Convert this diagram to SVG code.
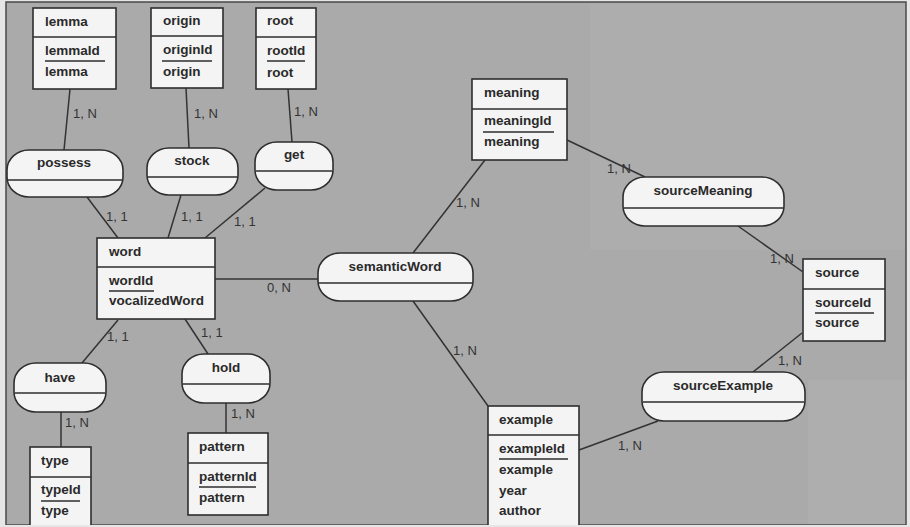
<svg xmlns="http://www.w3.org/2000/svg" width="910" height="527" viewBox="0 0 910 527">
<style>
.ent{fill:#f4f4f4;stroke:#2e2e2e;stroke-width:1.6}
.rel{fill:#f4f4f4;stroke:#2e2e2e;stroke-width:1.6}
.div{stroke:#2e2e2e;stroke-width:1.6}
.ul{stroke:#2e2e2e;stroke-width:1.5}
.t{font-family:"Liberation Sans",Arial,sans-serif;font-size:13.5px;font-weight:bold;fill:#2a2a2a}
.tc{font-family:"Liberation Sans",Arial,sans-serif;font-size:13.5px;font-weight:bold;fill:#2a2a2a;text-anchor:middle}
.lbl{font-family:"Liberation Sans",Arial,sans-serif;font-size:13px;fill:#333}
.ln{stroke:#333;stroke-width:1.5;fill:none}
</style>
<rect x="0" y="0" width="910" height="527" fill="#e6e6e6"/>
<rect x="6" y="2" width="900" height="523" fill="#aaaaaa" stroke="#4a4a4a" stroke-width="1.5"/>
<rect x="590" y="3" width="315" height="247" fill="#adadad"/>
<rect x="808" y="380" width="97" height="144" fill="#aeaeae"/>

<g id="connectors">
<line class="ln" x1="70" y1="89" x2="64" y2="150"/>
<text class="lbl" x="73" y="118">1, N</text>
<line class="ln" x1="186" y1="88" x2="189" y2="148"/>
<text class="lbl" x="194" y="118">1, N</text>
<line class="ln" x1="288" y1="89" x2="292" y2="142"/>
<text class="lbl" x="294" y="116">1, N</text>
<line class="ln" x1="87" y1="197" x2="118" y2="238"/>
<text class="lbl" x="106" y="221">1, 1</text>
<line class="ln" x1="181" y1="195" x2="168" y2="238"/>
<text class="lbl" x="181" y="221">1, 1</text>
<line class="ln" x1="265" y1="188" x2="205" y2="238"/>
<text class="lbl" x="234" y="226">1, 1</text>
<line class="ln" x1="215" y1="279" x2="318" y2="279"/>
<text class="lbl" x="267" y="292">0, N</text>
<line class="ln" x1="118" y1="320" x2="82" y2="363"/>
<text class="lbl" x="107" y="341">1, 1</text>
<line class="ln" x1="185" y1="319" x2="208" y2="354"/>
<text class="lbl" x="201" y="337">1, 1</text>
<line class="ln" x1="61" y1="412" x2="61" y2="447"/>
<text class="lbl" x="65" y="427">1, N</text>
<line class="ln" x1="226" y1="403" x2="226" y2="433"/>
<text class="lbl" x="231" y="418">1, N</text>
<line class="ln" x1="413" y1="253" x2="485" y2="160"/>
<text class="lbl" x="456" y="207">1, N</text>
<line class="ln" x1="567" y1="140" x2="645" y2="177"/>
<text class="lbl" x="607" y="173">1, N</text>
<line class="ln" x1="738" y1="226" x2="803" y2="272"/>
<text class="lbl" x="770" y="263">1, N</text>
<line class="ln" x1="802" y1="333" x2="753" y2="372"/>
<text class="lbl" x="778" y="365">1, N</text>
<line class="ln" x1="413" y1="301" x2="488" y2="406"/>
<text class="lbl" x="453" y="355">1, N</text>
<line class="ln" x1="579" y1="450" x2="658" y2="421"/>
<text class="lbl" x="618" y="450">1, N</text>
</g>

<g id="lemma">
<rect class="ent" x="33" y="8" width="83" height="81"/>
<line class="div" x1="33" y1="37" x2="116" y2="37"/>
<text class="t" x="45" y="26">lemma</text>
<text class="t" x="45" y="55">lemmaId</text>
<line class="ul" x1="45" y1="61" x2="105" y2="61"/>
<text class="t" x="45" y="76">lemma</text>
</g>
<g id="origin">
<rect class="ent" x="151" y="8" width="72" height="80"/>
<line class="div" x1="151" y1="36" x2="223" y2="36"/>
<text class="t" x="163" y="25">origin</text>
<text class="t" x="163" y="54">originId</text>
<line class="ul" x1="162" y1="61" x2="212" y2="61"/>
<text class="t" x="163" y="76">origin</text>
</g>
<g id="root">
<rect class="ent" x="256" y="8" width="60" height="81"/>
<line class="div" x1="256" y1="37" x2="316" y2="37"/>
<text class="t" x="267" y="25">root</text>
<text class="t" x="267" y="55">rootId</text>
<line class="ul" x1="267" y1="61" x2="305" y2="61"/>
<text class="t" x="267" y="77">root</text>
</g>
<g id="possess">
<rect class="rel" x="7" y="150" width="116" height="47" rx="22" ry="20"/>
<line class="div" x1="8" y1="180" x2="122" y2="180"/>
<text class="tc" x="64" y="167">possess</text>
</g>
<g id="stock">
<rect class="rel" x="147" y="148" width="91" height="47" rx="22" ry="20"/>
<line class="div" x1="148" y1="177" x2="237" y2="177"/>
<text class="tc" x="192" y="165">stock</text>
</g>
<g id="get">
<rect class="rel" x="255" y="142" width="78" height="48" rx="22" ry="20"/>
<line class="div" x1="256" y1="171" x2="332" y2="171"/>
<text class="tc" x="294" y="159">get</text>
</g>
<g id="word">
<rect class="ent" x="97" y="238" width="118" height="81"/>
<line class="div" x1="97" y1="267" x2="215" y2="267"/>
<text class="t" x="109" y="256">word</text>
<text class="t" x="109" y="285">wordId</text>
<line class="ul" x1="109" y1="291" x2="154" y2="291"/>
<text class="t" x="109" y="305">vocalizedWord</text>
</g>
<g id="have">
<rect class="rel" x="14" y="363" width="92" height="49" rx="22" ry="20"/>
<line class="div" x1="15" y1="393" x2="105" y2="393"/>
<text class="tc" x="60" y="382">have</text>
</g>
<g id="hold">
<rect class="rel" x="182" y="354" width="88" height="49" rx="22" ry="20"/>
<line class="div" x1="183" y1="384" x2="269" y2="384"/>
<text class="tc" x="226" y="372">hold</text>
</g>
<g id="type">
<rect class="ent" x="30" y="447" width="61" height="90"/>
<line class="div" x1="30" y1="477" x2="91" y2="477"/>
<text class="t" x="41" y="465">type</text>
<text class="t" x="41" y="494">typeId</text>
<line class="ul" x1="41" y1="501" x2="80" y2="501"/>
<text class="t" x="41" y="515">type</text>
</g>
<g id="pattern">
<rect class="ent" x="188" y="433" width="80" height="82"/>
<line class="div" x1="188" y1="463" x2="268" y2="463"/>
<text class="t" x="199" y="451">pattern</text>
<text class="t" x="199" y="481">patternId</text>
<line class="ul" x1="199" y1="487" x2="256" y2="487"/>
<text class="t" x="199" y="502">pattern</text>
</g>
<g id="semanticWord">
<rect class="rel" x="318" y="253" width="155" height="48" rx="22" ry="20"/>
<line class="div" x1="319" y1="283" x2="472" y2="283"/>
<text class="tc" x="395" y="271">semanticWord</text>
</g>
<g id="meaning">
<rect class="ent" x="472" y="79" width="95" height="81"/>
<line class="div" x1="472" y1="109" x2="567" y2="109"/>
<text class="t" x="484" y="97">meaning</text>
<text class="t" x="484" y="125">meaningId</text>
<line class="ul" x1="483" y1="132" x2="554" y2="132"/>
<text class="t" x="484" y="146">meaning</text>
</g>
<g id="sourceMeaning">
<rect class="rel" x="623" y="177" width="161" height="49" rx="22" ry="20"/>
<line class="div" x1="624" y1="208" x2="783" y2="208"/>
<text class="tc" x="703" y="195">sourceMeaning</text>
</g>
<g id="source">
<rect class="ent" x="803" y="259" width="82" height="82"/>
<line class="div" x1="803" y1="289" x2="885" y2="289"/>
<text class="t" x="815" y="277">source</text>
<text class="t" x="815" y="307">sourceId</text>
<line class="ul" x1="815" y1="313" x2="874" y2="313"/>
<text class="t" x="815" y="327">source</text>
</g>
<g id="sourceExample">
<rect class="rel" x="642" y="372" width="163" height="49" rx="22" ry="20"/>
<line class="div" x1="643" y1="402" x2="804" y2="402"/>
<text class="tc" x="723" y="390">sourceExample</text>
</g>
<g id="example">
<rect class="ent" x="488" y="406" width="91" height="131"/>
<line class="div" x1="488" y1="435" x2="579" y2="435"/>
<text class="t" x="499" y="424">example</text>
<text class="t" x="499" y="453">exampleId</text>
<line class="ul" x1="499" y1="459" x2="568" y2="459"/>
<text class="t" x="499" y="474">example</text>
<text class="t" x="499" y="495">year</text>
<text class="t" x="499" y="515">author</text>
</g>
<rect x="0" y="525" width="910" height="2" fill="#e6e6e6"/>
</svg>
